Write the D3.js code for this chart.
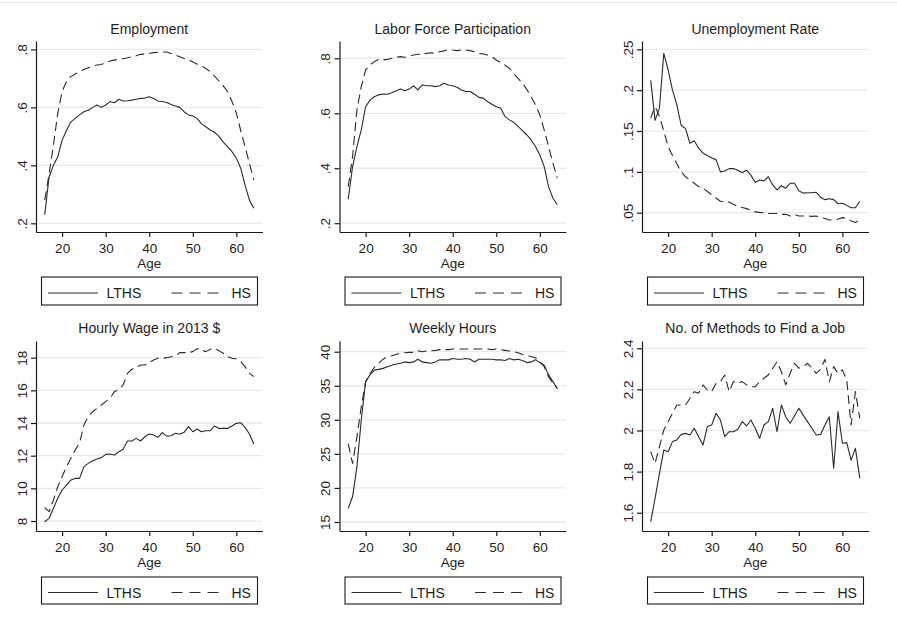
<!DOCTYPE html>
<html>
<head>
<meta charset="utf-8">
<script src="https://cdn.jsdelivr.net/npm/d3@7/dist/d3.min.js"></script>
<style>
  html, body { margin: 0; padding: 0; background: #fff; }
  svg { display: block; }
  text { font-family: "Liberation Sans", Arial, Helvetica, sans-serif; fill: #1e1e1e; }
</style>
</head>
<body>
<svg id="chart" width="897" height="619"></svg>
<script>
// Ages covered by every panel
const ages = [16,17,18,19,20,21,22,23,24,25,26,27,28,29,30,31,32,33,34,35,36,37,38,39,40,
              41,42,43,44,45,46,47,48,49,50,51,52,53,54,55,56,57,58,59,60,61,62,63,64];

// Employment rate
const empLTHS = [.229,.36,.40,.43,.487,.52,.55,.562,.574,.585, .59,.60,.608,.60,.608,.62,.616,.628,.622,.623,
                 .625,.628,.631,.632,.637,.631,.622,.62,.617,.61, .605,.60,.585,.574,.57,.562,.543,.533,.522,.514,
                 .50,.48,.464,.447,.424,.39,.332,.28,.252];
const empHS   = [.28,.37,.47,.58,.655,.69,.706,.715,.723,.731, .737,.743,.746,.748,.754,.76,.763,.766,.768,.771,
                 .775,.778,.783,.784,.786,.789,.79,.791,.791,.786, .78,.775,.769,.763,.757,.749,.743,.734,.723,.708,
                 .691,.674,.654,.62,.58,.52,.464,.407,.35];

// Labor force participation
const lfpLTHS = [.287,.406,.479,.54,.624,.648,.66,.667,.67,.669, .675,.682,.688,.682,.688,.70,.685,.703,.70,.70,
                 .697,.70,.709,.703,.70,.695,.685,.679,.679,.669, .658,.655,.642,.633,.624,.618,.588,.576,.567,.552,
                 .537,.521,.503,.479,.448,.406,.333,.291,.267];
const lfpHS   = [.333,.442,.612,.697,.758,.776,.788,.796,.794,.796, .80,.804,.806,.804,.808,.812,.815,.816,.818,.82,
                 .818,.824,.827,.833,.83,.828,.83,.83,.828,.824, .818,.816,.812,.806,.794,.784,.775,.764,.745,.727,
                 .709,.687,.661,.63,.594,.539,.479,.418,.364];

// Unemployment rate
const unempLTHS = [.212,.163,.178,.245,.225,.20,.182,.157,.153,.135, .138,.129,.123,.12,.117,.115,.10,.101,.104,.104,
                   .102,.099,.102,.096,.087,.09,.089,.094,.084,.078, .083,.080,.086,.086,.077,.074,.0745,.0745,.075,.069,
                   .066,.067,.066,.061,.0615,.059,.056,.056,.064];
const unempHS   = [.166,.180,.168,.150,.131,.12,.11,.10,.094,.09, .086,.082,.08,.076,.072,.068,.064,.0635,.063,.06,
                   .058,.0565,.055,.053,.051,.0504,.05,.049,.049,.049, .048,.048,.046,.048,.046,.046,.046,.0455,.046,.044,
                   .043,.041,.042,.042,.044,.043,.040,.038,.041];

// Hourly wage in 2013 dollars
const wageLTHS = [7.96,8.16,8.78,9.39,9.9,10.2,10.51,10.61,10.61,11.33, 11.53,11.69,11.8,11.88,12.08,12.1,12.04,12.24,12.39,12.9,
                  12.9,13.06,12.9,13.16,13.33,13.27,13.12,13.41,13.2,13.22, 13.37,13.31,13.43,13.78,13.47,13.63,13.47,13.53,13.53,13.82,
                  13.67,13.67,13.67,13.82,13.98,14.02,13.73,13.33,12.71];
const wageHS   = [8.82,8.57,9.29,10.1,10.71,11.33,11.84,12.35,12.76,13.88, 14.39,14.69,14.9,15.1,15.31,15.51,15.92,16.06,16.33,17.04,
                  17.29,17.41,17.55,17.55,17.69,17.86,17.96,17.96,18.0,18.06, 18.12,18.31,18.31,18.31,18.37,18.55,18.47,18.37,18.51,18.57,
                  18.43,18.27,18.06,17.96,17.92,17.76,17.45,17.04,16.84];

// Weekly hours
const hoursLTHS = [17.0,18.7,23.1,30.0,35.6,36.6,37.3,37.4,37.55,37.8, 38.0,38.2,38.3,38.5,38.4,38.5,38.9,38.5,38.4,38.3,
                   38.5,38.8,38.8,38.8,39.0,38.9,38.9,39.0,38.9,38.5, 38.9,38.9,38.9,38.9,38.8,38.8,38.7,39.0,38.8,38.9,
                   38.7,38.4,38.5,38.8,38.4,38.0,36.6,35.6,34.6];
const hoursHS   = [26.5,23.6,27.5,31.9,35.6,36.8,37.7,38.3,38.9,39.3, 39.4,39.6,39.8,39.85,39.9,39.9,40.15,40.0,40.1,40.15,
                   40.2,40.3,40.3,40.3,40.4,40.4,40.4,40.4,40.4,40.4, 40.4,40.4,40.4,40.3,40.4,40.3,40.2,40.1,40.0,39.85,
                   39.6,39.4,39.3,39.1,38.5,37.8,36.3,35.4,34.6];

// Number of job search methods
const methodsLTHS = [1.556,1.67,1.79,1.905,1.897,1.946,1.954,1.981,1.986,1.978, 2.011,1.97,1.929,2.019,2.027,2.084,2.051,1.97,1.994,1.994,
                     2.006,2.043,2.022,2.051,2.011,1.962,2.027,2.043,2.108,1.994, 2.124,2.067,2.035,2.071,2.108,2.075,2.043,2.011,1.978,1.981,
                     2.027,2.067,1.816,2.092,1.938,1.941,1.856,1.913,1.767];
const methodsHS   = [1.897,1.84,1.921,2.002,2.043,2.084,2.124,2.124,2.124,2.157, 2.189,2.181,2.222,2.197,2.189,2.23,2.238,2.27,2.189,2.238,
                     2.23,2.238,2.222,2.213,2.213,2.238,2.254,2.27,2.303,2.335, 2.286,2.222,2.278,2.327,2.303,2.311,2.327,2.303,2.278,2.298,
                     2.346,2.238,2.311,2.278,2.295,2.246,2.027,2.189,2.059];

// Panel titles, y-axis ticks and labels
const titles = ["Employment", "Labor Force Participation", "Unemployment Rate",
                "Hourly Wage in 2013 $", "Weekly Hours", "No. of Methods to Find a Job"];
const yTicks = [[.2,.4,.6,.8], [.2,.4,.6,.8], [.05,.1,.15,.2,.25],
                [8,10,12,14,16,18], [15,20,25,30,35,40], [1.6,1.8,2,2.2,2.4]];
const yTickLabels = [[".2",".4",".6",".8"], [".2",".4",".6",".8"], [".05",".1",".15",".2",".25"],
                     ["8","10","12","14","16","18"], ["15","20","25","30","35","40"], ["1.6","1.8","2","2.2","2.4"]];
const xTicks = [20, 30, 40, 50, 60];
const seriesNames = ["LTHS", "HS"];
const xLabel = "Age";

const lthsSeries = [empLTHS, lfpLTHS, unempLTHS, wageLTHS, hoursLTHS, methodsLTHS];
const hsSeries   = [empHS, lfpHS, unempHS, wageHS, hoursHS, methodsHS];

// Axis ranges (value at bottom / top of each plot region)
const yDomains = [[0.170, 0.829], [0.168, 0.863], [0.0264, 0.2602],
                  [7.39, 19.02], [13.68, 41.57], [1.511, 2.4355]];
const xDomain = [14, 66];

// Layout
const colLeft = [36, 339.5, 642];
const plotW = 226.5;
const rowTop = [41, 341];
const rowBottom = [232, 531];
const titleBase = [33.5, 333];
const legendTop = [277, 577];
const legendH = [28, 27];

const lineColor = "#2b2b2b";
const dash = "9,5";

const svg = d3.select("#chart");

// faint border line across the top of the image
svg.append("line").attr("x1", 0).attr("x2", 897).attr("y1", 2.5).attr("y2", 2.5)
   .attr("stroke", "#e4ebe7").attr("stroke-width", 1);

titles.forEach((title, i) => {
  const col = i % 3, row = Math.floor(i / 3);
  const left = colLeft[col], right = left + plotW;
  const top = rowTop[row], bottom = rowBottom[row];

  const x = d3.scaleLinear().domain(xDomain).range([left, right]);
  const y = d3.scaleLinear().domain(yDomains[i]).range([bottom, top]);

  const g = svg.append("g");

  // horizontal grid lines
  g.selectAll("line.grid").data(yTicks[i]).join("line")
    .attr("class", "grid")
    .attr("x1", left).attr("x2", right)
    .attr("y1", d => y(d)).attr("y2", d => y(d))
    .attr("stroke", "#e9e9e9").attr("stroke-width", 1.3);

  // title
  g.append("text").attr("x", (left + right) / 2).attr("y", titleBase[row])
    .attr("text-anchor", "middle").attr("font-size", 14).text(title);

  // series
  const line = d3.line().x((d, k) => x(ages[k])).y(d => y(d));
  g.append("path").datum(lthsSeries[i]).attr("d", line)
    .attr("fill", "none").attr("stroke", lineColor).attr("stroke-width", 1.1)
    .attr("stroke-linejoin", "round");
  g.append("path").datum(hsSeries[i]).attr("d", line)
    .attr("fill", "none").attr("stroke", lineColor).attr("stroke-width", 1.1)
    .attr("stroke-dasharray", dash).attr("stroke-linejoin", "round");

  // y axis
  const yAxis = d3.axisLeft(y).tickValues(yTicks[i])
    .tickFormat((d, k) => yTickLabels[i][k]).tickSize(5).tickSizeOuter(0);
  const ya = g.append("g").attr("transform", `translate(${left},0)`).call(yAxis);
  ya.attr("font-family", null).attr("font-size", null);
  ya.select(".domain").attr("stroke", "#1a1a1a").attr("stroke-width", 1.2);
  ya.selectAll(".tick line").attr("stroke", "#1a1a1a").attr("stroke-width", 1.2);
  ya.selectAll(".tick text")
    .attr("transform", "rotate(-90)").attr("x", 0).attr("y", -9.5).attr("dy", 0)
    .attr("text-anchor", "middle").attr("font-size", 13.5).attr("fill", null);

  // x axis
  const xAxis = d3.axisBottom(x).tickValues(xTicks).tickFormat(d3.format("d"))
    .tickSize(5).tickSizeOuter(0);
  const xa = g.append("g").attr("transform", `translate(0,${bottom})`).call(xAxis);
  xa.attr("font-family", null).attr("font-size", null);
  xa.select(".domain").attr("stroke", "#1a1a1a").attr("stroke-width", 1.2);
  xa.selectAll(".tick line").attr("stroke", "#1a1a1a").attr("stroke-width", 1.2);
  xa.selectAll(".tick text").attr("y", 20.5).attr("dy", 0).attr("font-size", 13.5).attr("fill", null);

  // axis title
  g.append("text").attr("x", (left + right) / 2).attr("y", bottom + 35.5)
    .attr("text-anchor", "middle").attr("font-size", 13.5).text(xLabel);

  // legend
  const lx = left + 5.5, lw = plotW - 10.5;
  const ly = legendTop[row], lh = legendH[row];
  const lg = g.append("g");
  lg.append("rect").attr("x", lx).attr("y", ly).attr("width", lw).attr("height", lh)
    .attr("fill", "#fff").attr("stroke", "#1a1a1a").attr("stroke-width", 1.1);
  const cy = ly + lh / 2 + 2;
  lg.append("line").attr("x1", lx + 6.5).attr("x2", lx + 56.5).attr("y1", cy).attr("y2", cy)
    .attr("stroke", lineColor).attr("stroke-width", 1.1);
  lg.append("text").attr("x", lx + 65).attr("y", cy + 5).attr("font-size", 14).text(seriesNames[0]);
  lg.append("line").attr("x1", lx + 130).attr("x2", lx + 178).attr("y1", cy).attr("y2", cy)
    .attr("stroke", lineColor).attr("stroke-width", 1.1).attr("stroke-dasharray", "11,7");
  lg.append("text").attr("x", lx + 190).attr("y", cy + 5).attr("font-size", 14).text(seriesNames[1]);
});
</script>
</body>
</html>
